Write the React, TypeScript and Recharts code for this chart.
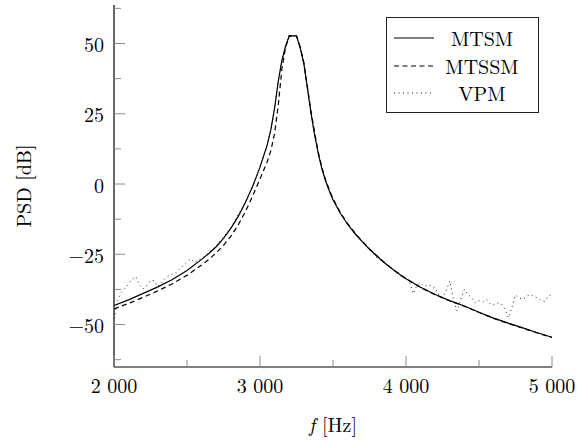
import { LineChart, Line, XAxis, YAxis, Legend } from "recharts";

// frequency grids [Hz]
const freqCurve = [
  2000, 2100, 2200, 2300, 2400, 2500, 2600, 2650, 2700, 2750, 2800, 2850, 2900, 2950,
  3000, 3050, 3075, 3100, 3125, 3150, 3175, 3200, 3250, 3275, 3300, 3325, 3350,
  3375, 3400, 3425, 3450, 3475, 3500, 3550, 3600, 3650, 3700, 3750, 3800, 3850, 3900,
  3950, 4000, 4100, 4200, 4300, 4400, 4500, 4600, 4700, 4800, 4900, 5000,
];

// PSD [dB]
const mtsm = [
  -43.2, -41.2, -38.9, -36.6, -34.0, -30.8, -26.8, -24.7, -22.3, -19.3, -15.8, -11.6, -6.6, -0.8,
  6.0, 14.0, 19.5, 27.0, 36.5, 44.0, 49.0, 52.7, 52.7, 48.5, 43.0, 34.0, 25.0,
  17.2, 10.6, 5.2, 1.0, -2.5, -5.6, -10.4, -14.3, -17.6, -20.5, -23.2, -25.6, -27.9, -30.0,
  -31.9, -33.7, -36.7, -39.3, -41.5, -43.4, -45.6, -47.7, -49.5, -51.2, -52.9, -54.5,
];

const mtssm = [
  -44.4, -42.5, -40.3, -38.0, -35.5, -32.5, -28.8, -26.8, -24.5, -21.8, -18.6, -14.6, -9.8, -4.2,
  1.8, 8.0, 12.0, 18.0, 28.0, 41.0, 48.5, 52.7, 52.7, 48.8, 43.3, 34.5, 25.8,
  18.0, 11.2, 5.7, 1.4, -2.1, -5.2, -10.1, -14.1, -17.4, -20.4, -23.1, -25.5, -27.8, -30.0,
  -31.9, -33.7, -36.8, -39.4, -41.6, -43.5, -45.7, -47.8, -49.6, -51.3, -53.0, -54.6,
];

const freqVpm = [
  2000, 2025, 2050, 2075, 2100, 2125, 2150, 2175, 2200, 2225, 2250, 2275, 2300,
  2325, 2350, 2375, 2400, 2425, 2450, 2475, 2500, 2525, 2550, 2600, 2700, 2800,
  2900, 2950, 3000, 3050, 3075, 3100, 3125, 3150, 3175, 3200, 3250, 3275, 3300,
  3325, 3350, 3375, 3400, 3425, 3450, 3500, 3550, 3600, 3650, 3700, 3750, 3800,
  3850, 3900, 3925, 3950, 3975, 4000, 4025, 4050, 4075, 4100, 4125, 4150, 4175,
  4200, 4225, 4250, 4275, 4300, 4325, 4350, 4375, 4400, 4425, 4450, 4475, 4500,
  4525, 4550, 4575, 4600, 4625, 4650, 4675, 4700, 4725, 4750, 4775, 4800, 4825,
  4850, 4875, 4900, 4925, 4950, 4975, 5000,
];

const vpm = [
  -47.8, -41.5, -38.5, -37.2, -35.5, -33.8, -33.0, -35.8, -37.3, -36.2, -34.3, -34.4, -36.5,
  -35.0, -33.6, -32.6, -32.0, -31.5, -30.2, -29.0, -27.8, -26.6, -27.9, -26.6, -22.0, -15.6,
  -6.4, -0.8, 6.0, 14.0, 19.5, 27.0, 36.5, 44.0, 49.0, 52.7, 52.7, 48.5, 43.0,
  34.0, 25.0, 17.2, 10.6, 5.2, 1.0, -5.5, -10.5, -14.2, -17.6, -20.4, -23.3, -26.2,
  -27.8, -29.8, -30.9, -31.5, -33.5, -33.0, -35.0, -39.0, -36.0, -35.2, -36.5, -35.8, -36.2,
  -37.0, -39.5, -40.5, -38.0, -34.5, -41.1, -45.2, -41.0, -37.5, -39.3, -40.5, -42.3, -41.5,
  -42.0, -41.1, -42.6, -43.0, -42.3, -42.5, -44.1, -47.6, -44.0, -39.5, -40.5, -41.1, -40.0,
  -39.3, -40.0, -40.5, -41.5, -41.7, -39.8, -39.3,
];

const xTicks = [2000, 2500, 3000, 3500, 4000, 4500, 5000];
const xTickLabels: Record<number, string> = {
  2000: "2 000",
  3000: "3 000",
  4000: "4 000",
  5000: "5 000",
};
const yTicks = [-62.5, -50, -37.5, -25, -12.5, 0, 12.5, 25, 37.5, 50, 62.5];
const yTickLabels: Record<number, string> = {
  [-50]: "\u221250",
  [-25]: "\u221225",
  0: "0",
  25: "25",
  50: "50",
};

const legendItems = [
  { name: "MTSM", dash: undefined as string | undefined, width: 1.2 },
  { name: "MTSSM", dash: "5 3.5", width: 1.2 },
  { name: "VPM", dash: "1 3.5", width: 0.9 },
];

const FONT = "Latin Modern Roman, serif";
const FONT_SIZE = 20;
const TICK_COLOR = "#8a8a8a";

const toPoints = (xs: number[], ys: number[]) =>
  xs.map((f, i) => ({ f, y: ys[i] }));

const mtsmData = toPoints(freqCurve, mtsm);
const mtssmData = toPoints(freqCurve, mtssm);
const vpmData = toPoints(freqVpm, vpm);

function LeftTick(props: any) {
  const { x, y, payload } = props;
  const label = yTickLabels[payload.value];
  const major = label !== undefined;
  return (
    <g>
      <line x1={x} x2={x + (major ? 11 : 7)} y1={y} y2={y} stroke={TICK_COLOR} />
      {major && (
        <text x={x - 10} y={y} textAnchor="end" dominantBaseline="central"
          fontFamily={FONT} fontSize={FONT_SIZE} fill="#000">
          {label}
        </text>
      )}
    </g>
  );
}

function RightTick(props: any) {
  const { x, y, payload } = props;
  const major = yTickLabels[payload.value] !== undefined;
  return <line x1={x} x2={x - (major ? 11 : 7)} y1={y} y2={y} stroke={TICK_COLOR} />;
}

function BottomTick(props: any) {
  const { x, y, payload } = props;
  const label = xTickLabels[payload.value];
  const major = label !== undefined;
  return (
    <g>
      <line x1={x} x2={x} y1={y} y2={y - (major ? 11 : 7)} stroke={TICK_COLOR} />
      {major && (
        <text x={x} y={y + 17} textAnchor="middle" dominantBaseline="central"
          fontFamily={FONT} fontSize={FONT_SIZE} fill="#000">
          {label}
        </text>
      )}
    </g>
  );
}

function TopTick(props: any) {
  const { x, y, payload } = props;
  const major = xTickLabels[payload.value] !== undefined;
  return <line x1={x} x2={x} y1={y} y2={y + (major ? 11 : 7)} stroke={TICK_COLOR} />;
}

function XLabel(props: any) {
  const { x, y, width } = props.viewBox;
  return (
    <text x={x + width / 2} y={y + 65} textAnchor="middle" fontFamily={FONT} fontSize={FONT_SIZE}>
      <tspan fontStyle="italic">f</tspan>
      <tspan dx={7}>[Hz]</tspan>
    </text>
  );
}

function YLabel(props: any) {
  const { y, height } = props.viewBox;
  const cy = y + height / 2;
  return (
    <text x={22} y={cy} textAnchor="middle" dominantBaseline="central"
      transform={`rotate(-90, 22, ${cy})`} fontFamily={FONT} fontSize={FONT_SIZE}>
      PSD [dB]
    </text>
  );
}

function LegendBox() {
  return (
    <div
      style={{
        position: "relative",
        width: 153,
        height: 96,
        boxSizing: "border-box",
        border: "1.2px solid #222",
        background: "#fff",
        fontFamily: FONT,
        fontSize: FONT_SIZE,
      }}
    >
      {legendItems.map((item, i) => (
        <div
          key={item.name}
          style={{
            position: "absolute",
            left: 0,
            top: 6 + i * 27.7,
            height: 28,
            width: "100%",
            display: "flex",
            alignItems: "center",
          }}
        >
          <svg width={40} height={4} style={{ marginLeft: 7 }}>
            <line x1={0} x2={40} y1={2} y2={2} stroke="#000"
              strokeWidth={item.width} strokeDasharray={item.dash} />
          </svg>
          <span style={{ width: 96, textAlign: "center", lineHeight: "28px", whiteSpace: "nowrap" }}>
            {item.name}
          </span>
        </div>
      ))}
    </div>
  );
}

export default function App() {
  return (
    <div style={{ position: "absolute", left: 0, top: 0, background: "#fff" }}>
      <LineChart width={578} height={442} margin={{ top: 5, right: 26, bottom: 0, left: 0 }}>
        <XAxis
          xAxisId="b"
          dataKey="f"
          type="number"
          domain={[2000, 5000]}
          ticks={xTicks}
          interval={0}
          height={75}
          tickSize={0}
          tickMargin={0}
          tick={<BottomTick />}
          axisLine={{ stroke: "#000", strokeWidth: 1.2 }}
          tickLine={false}
          label={<XLabel />}
        />
        <XAxis
          xAxisId="t"
          orientation="top"
          dataKey="f"
          type="number"
          domain={[2000, 5000]}
          ticks={xTicks}
          interval={0}
          height={0}
          tickSize={0}
          tickMargin={0}
          tick={<TopTick />}
          axisLine={{ stroke: "#000", strokeWidth: 1.2 }}
          tickLine={false}
        />
        <YAxis
          yAxisId="l"
          type="number"
          domain={[-65.1, 63.7]}
          ticks={yTicks}
          interval={0}
          width={114}
          tickSize={0}
          tickMargin={0}
          tick={<LeftTick />}
          axisLine={{ stroke: "#000", strokeWidth: 1.2 }}
          tickLine={false}
          label={<YLabel />}
        />
        <YAxis
          yAxisId="r"
          orientation="right"
          type="number"
          domain={[-65.1, 63.7]}
          ticks={yTicks}
          interval={0}
          width={0}
          tickSize={0}
          tickMargin={0}
          tick={<RightTick />}
          axisLine={{ stroke: "#000", strokeWidth: 1.2 }}
          tickLine={false}
        />
        <Legend
          layout="vertical"
          align="center"
          verticalAlign="middle"
          wrapperStyle={{ top: 17, left: 386, width: 153, height: 96 }}
          content={<LegendBox />}
        />
        <Line
          xAxisId="b"
          yAxisId="l"
          data={vpmData}
          dataKey="y"
          name="VPM"
          stroke="#000"
          strokeWidth={0.9}
          strokeDasharray="1 3.5"
          dot={false}
          isAnimationActive={false}
        />
        <Line
          xAxisId="b"
          yAxisId="l"
          data={mtssmData}
          dataKey="y"
          name="MTSSM"
          stroke="#000"
          strokeWidth={1.2}
          strokeDasharray="5 3.5"
          dot={false}
          isAnimationActive={false}
        />
        <Line
          xAxisId="b"
          yAxisId="l"
          data={mtsmData}
          dataKey="y"
          name="MTSM"
          stroke="#000"
          strokeWidth={1.2}
          dot={false}
          isAnimationActive={false}
        />
      </LineChart>
    </div>
  );
}
